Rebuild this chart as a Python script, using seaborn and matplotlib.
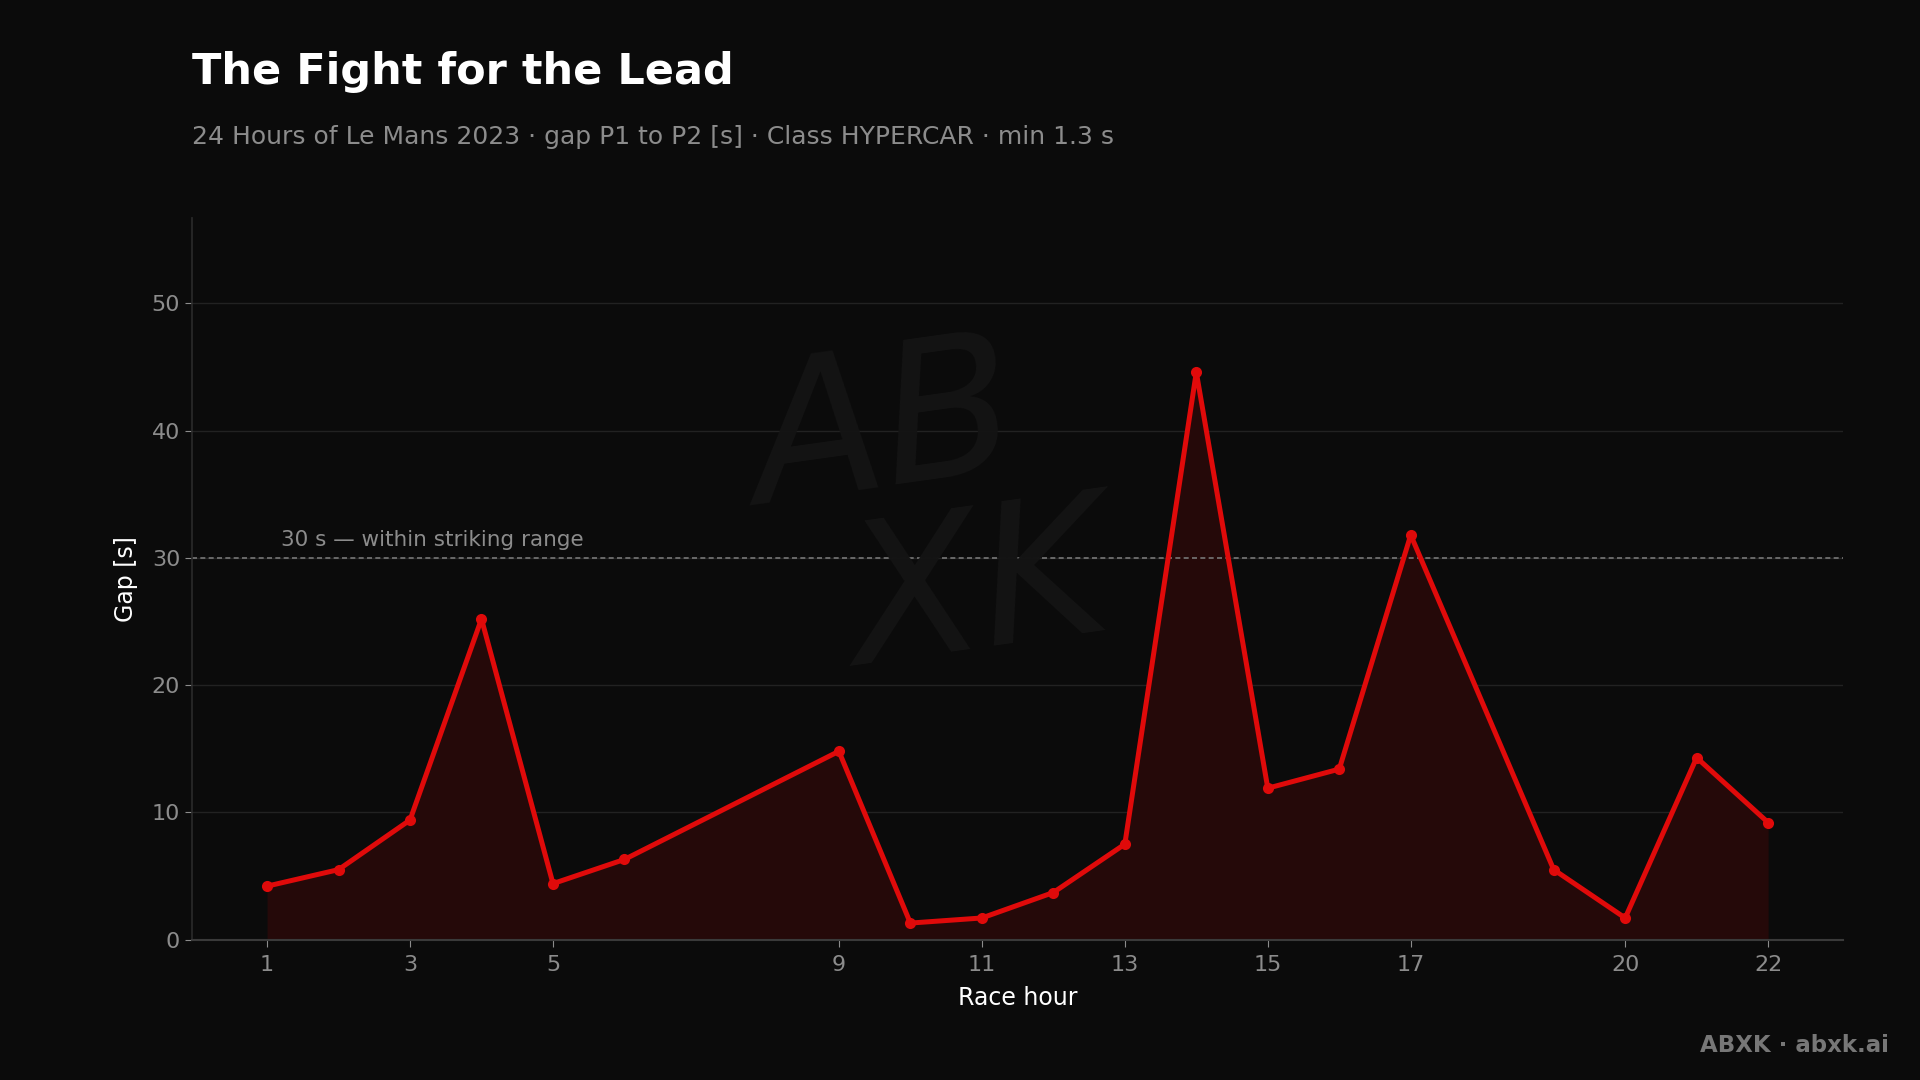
import numpy as np
import pandas as pd
import matplotlib.pyplot as plt
import seaborn as sns

# data
race_hour = [1, 2, 3, 4, 5, 6, 9, 10, 11, 12, 13, 14, 15, 16, 17, 19, 20, 21, 22]
gap_s = [4.2, 5.5, 9.4, 25.2, 4.4, 6.3, 14.8, 1.3, 1.7, 3.7, 7.5, 44.6,
         11.9, 13.4, 31.8, 5.5, 1.7, 14.3, 9.2]
x_ticks = [1, 3, 5, 9, 11, 13, 15, 17, 20, 22]
y_ticks = [0, 10, 20, 30, 40, 50]
threshold = 30

df = pd.DataFrame({'hour': race_hour, 'gap': gap_s})

bg = '#0b0b0b'
red = '#e00a0a'

sns.set_theme(style='dark')
plt.rcParams['font.family'] = ['DejaVu Sans']

fig = plt.figure(figsize=(19.2, 10.8), dpi=100, facecolor=bg)
ax = fig.add_axes([0.1, 0.13, 0.86, 0.668])
ax.set_facecolor(bg)

# watermark
fig.text(0.46, 0.6, 'AB', fontsize=140, color='#141414', style='italic',
         ha='center', va='center', rotation=8, zorder=0)
fig.text(0.51, 0.45, 'XK', fontsize=140, color='#141414', style='italic',
         ha='center', va='center', rotation=8, zorder=0)

ax.fill_between(df['hour'], df['gap'], 0, color='#250909', zorder=1, linewidth=0)
sns.lineplot(data=df, x='hour', y='gap', ax=ax, color=red, linewidth=3.6,
             marker='o', markersize=8, markeredgewidth=0, zorder=3)

ax.axhline(threshold, color='#777777', linestyle=(0, (3, 2)), linewidth=1.2, zorder=2)
ax.text(1.2, threshold + 0.6, '30 s — within striking range', color='#8c8c8c',
        fontsize=15.5, ha='left', va='bottom')

ax.set_xlim(-0.05, 23.05)
ax.set_ylim(0, 56.7)
ax.set_xticks(x_ticks)
ax.set_yticks(y_ticks)
ax.tick_params(axis='both', colors='#8c8c8c', labelsize=16, length=5, width=0.8,
               bottom=True, left=True)
ax.tick_params(axis='x', pad=6)
ax.yaxis.grid(True, color='#222222', linewidth=1)
ax.xaxis.grid(False)
for side in ['top', 'right']:
    ax.spines[side].set_visible(False)
ax.spines['left'].set_color('#2a2a2a')
ax.spines['bottom'].set_color('#3a3a3a')
ax.spines['bottom'].set_linewidth(1.5)

ax.set_xlabel('Race hour', color='white', fontsize=17, labelpad=8)
ax.set_ylabel('Gap [s]', color='white', fontsize=17, labelpad=10)

fig.text(0.1, 0.933, 'The Fight for the Lead', color='white', fontsize=31,
         fontweight='bold', ha='left', va='center')
fig.text(0.1, 0.873, '24 Hours of Le Mans 2023 · gap P1 to P2 [s] · Class HYPERCAR · min 1.3 s',
         color='#8c8c8c', fontsize=18, ha='left', va='center')
fig.text(0.984, 0.032, 'ABXK · abxk.ai', color='#777777', fontsize=16.5,
         fontweight='bold', ha='right', va='center')

plt.savefig('out.png', facecolor=bg, dpi=100)
